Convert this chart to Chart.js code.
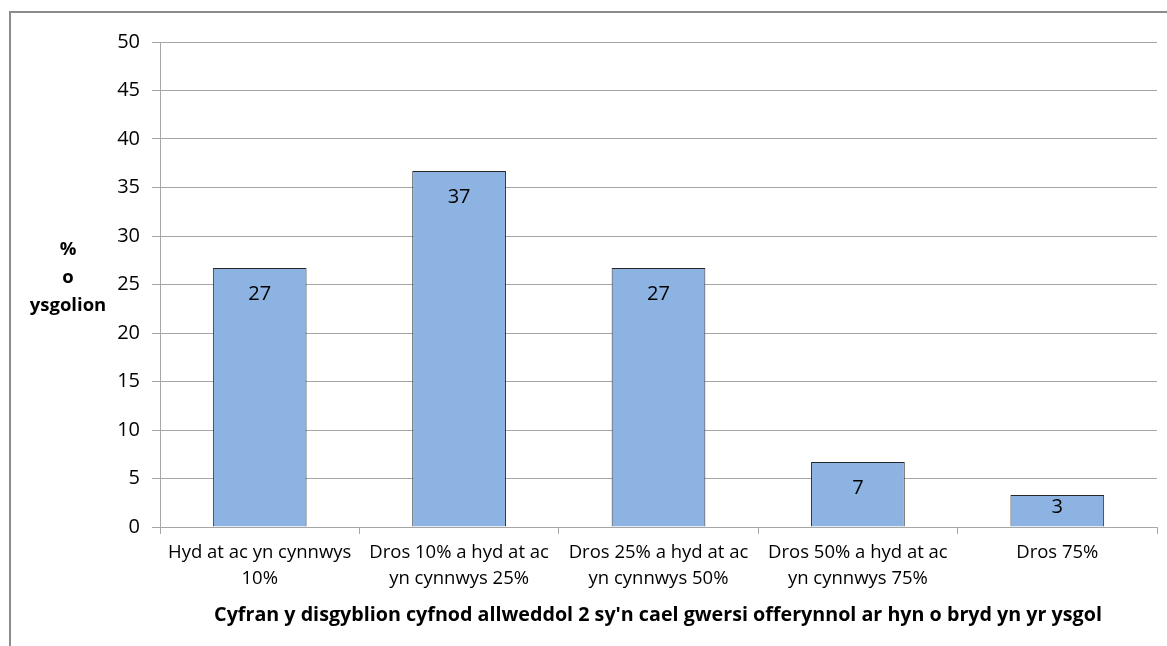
<!DOCTYPE html>
<html>
<head>
<meta charset="utf-8">
<script src="https://cdn.jsdelivr.net/npm/chart.js@4.4.1/dist/chart.umd.min.js"></script>
<style>
  html, body { margin: 0; padding: 0; background: #fff; }
  #wrap { position: relative; width: 1167px; height: 646px; }
  #frame { position: absolute; left: 9px; top: 11px; right: -5px; bottom: -5px;
           border-left: 2px solid #8c8c8c; border-top: 2px solid #8c8c8c; pointer-events: none; }
  canvas { position: absolute; left: 0; top: 0; }
</style>
</head>
<body>
<div id="wrap">
  <canvas id="chart" width="1167" height="646"></canvas>
  <div id="frame"></div>
</div>
<script>
const categories = [
  ['Hyd at ac yn cynnwys', '10%'],
  ['Dros 10% a hyd at ac', 'yn cynnwys 25%'],
  ['Dros 25% a hyd at ac', 'yn cynnwys 50%'],
  ['Dros 50% a hyd at ac', 'yn cynnwys 75%'],
  'Dros 75%'
];
const values = [26.7, 36.7, 26.7, 6.7, 3.3];
const yTitleLines = ['%', 'o', 'ysgolion'];
const xTitle = "Cyfran y disgyblion cyfnod allweddol 2 sy'n cael gwersi offerynnol ar hyn o bryd yn yr ysgol";

const FONT = '"Open Sans", sans-serif';

// value labels inside the top of each bar, plus the two axis titles
const labelsPlugin = {
  id: 'labelsPlugin',
  afterDatasetsDraw(chart) {
    const ctx = chart.ctx;
    const meta = chart.getDatasetMeta(0);
    ctx.save();
    ctx.fillStyle = '#000';
    ctx.textAlign = 'center';
    ctx.textBaseline = 'middle';
    ctx.font = '20px ' + FONT;
    meta.data.forEach((bar, i) => {
      const h = bar.base - bar.y;
      const off = Math.min(26, h / 2 - 3);
      ctx.fillText(String(Math.round(values[i])), bar.x, bar.y + off);
    });
    ctx.restore();
  },
  afterDraw(chart) {
    const ctx = chart.ctx;
    ctx.save();
    ctx.fillStyle = '#000';
    ctx.textAlign = 'center';
    ctx.textBaseline = 'middle';
    ctx.font = 'bold 18.5px ' + FONT;
    yTitleLines.forEach((t, i) => ctx.fillText(t, 68, 250 + i * 28));
    ctx.font = 'bold 19.7px ' + FONT;
    ctx.fillText(xTitle, 658, 615);
    ctx.restore();
  }
};

new Chart(document.getElementById('chart'), {
  type: 'bar',
  data: {
    labels: categories,
    datasets: [{
      data: values,
      backgroundColor: '#8db3e2',
      borderColor: '#262626',
      borderWidth: 1,
      barPercentage: 0.47,
      categoryPercentage: 1
    }]
  },
  options: {
    responsive: false,
    animation: false,
    layout: { padding: { top: 42, right: 10, left: 0, bottom: 0 } },
    plugins: { legend: { display: false }, tooltip: { enabled: false } },
    scales: {
      x: {
        grid: { drawOnChartArea: false, drawTicks: true, tickLength: 7, color: '#a6a6a6', offset: true },
        border: { color: '#a6a6a6', width: 1 },
        ticks: { color: '#000', font: { family: FONT, size: 18.5, lineHeight: 1.4 }, padding: 6, maxRotation: 0, autoSkip: false },
        afterFit: s => { s.height = 646 - 527; }
      },
      y: {
        min: 0, max: 50,
        grid: { color: '#a6a6a6', tickLength: 8 },
        border: { color: '#a6a6a6', width: 1 },
        ticks: { stepSize: 5, color: '#000', font: { family: FONT, size: 20 }, padding: 12 },
        afterFit: s => { s.width = 160; }
      }
    }
  },
  plugins: [labelsPlugin]
});
</script>
</body>
</html>
